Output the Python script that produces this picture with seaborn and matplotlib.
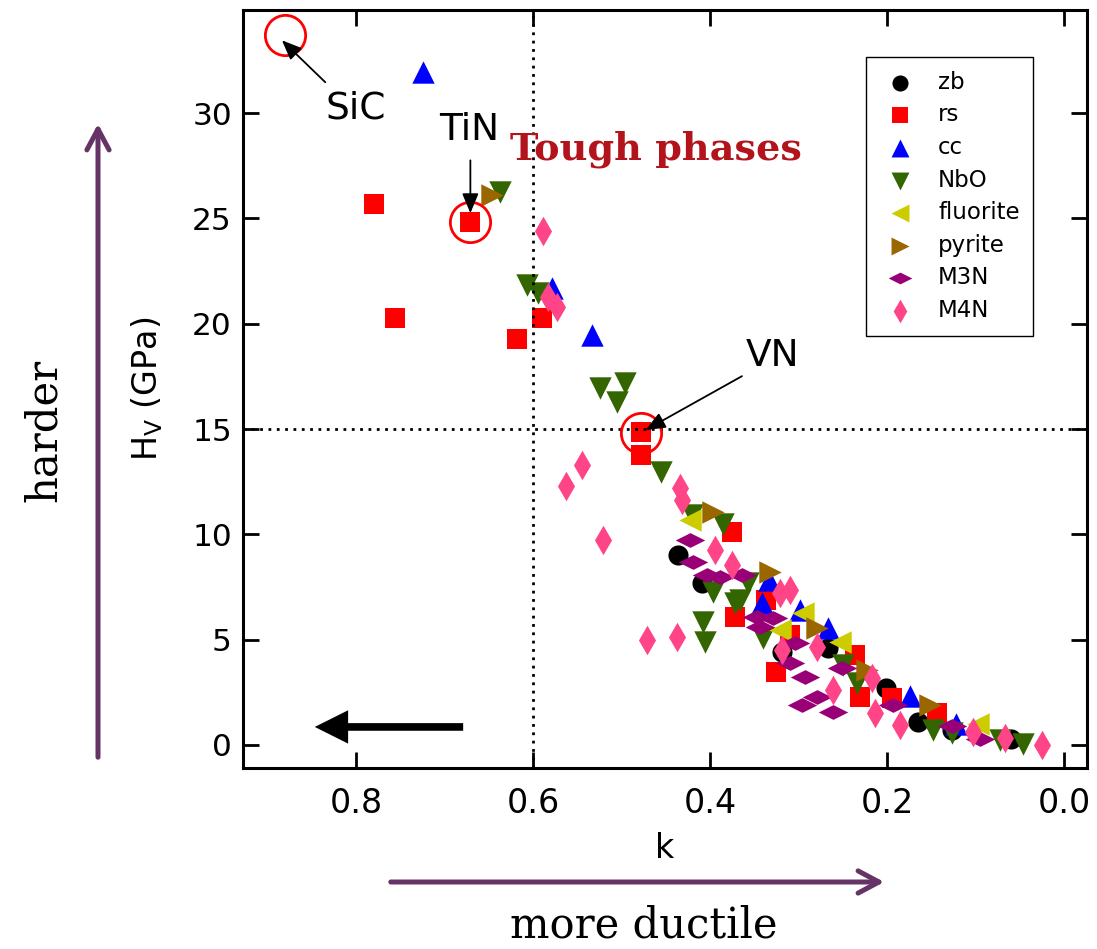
import matplotlib
matplotlib.use("Agg")
import matplotlib.pyplot as plt
import seaborn as sns
import pandas as pd
from matplotlib.patches import FancyArrowPatch

# ---------------- data (k, Hv in GPa) ----------------
zb_k = [0.436, 0.409, 0.319, 0.267, 0.201, 0.165, 0.127, 0.060]
zb_h = [9.02, 7.69, 4.41, 4.60, 2.71, 1.09, 0.71, 0.28]

rs_k = [0.780, 0.671, 0.756, 0.618, 0.590, 0.478, 0.478, 0.375, 0.372, 0.337,
        0.310, 0.325, 0.236, 0.231, 0.194, 0.144]
rs_h = [25.68, 24.82, 20.27, 19.27, 20.27, 14.86, 13.76, 10.11, 6.07, 6.88,
        5.22, 3.46, 4.27, 2.28, 2.23, 1.52]

cc_k = [0.725, 0.579, 0.533, 0.334, 0.341, 0.298, 0.267, 0.174, 0.122]
cc_h = [31.94, 21.69, 19.46, 7.83, 6.74, 6.41, 5.55, 2.33, 1.00]

nbo_k = [0.637, 0.607, 0.594, 0.524, 0.496, 0.505, 0.456, 0.386, 0.420, 0.357,
         0.397, 0.372, 0.408, 0.406, 0.340, 0.366, 0.250, 0.234, 0.148, 0.127,
         0.072, 0.046]
nbo_h = [26.25, 21.83, 21.45, 16.94, 17.18, 16.28, 12.96, 10.49, 10.92, 7.69,
         7.26, 6.74, 5.84, 4.89, 5.08, 6.88, 3.80, 2.94, 0.71, 0.57,
         0.24, 0.05]

fluorite_k = [0.423, 0.321, 0.295, 0.253, 0.097]
fluorite_h = [10.68, 5.46, 6.26, 4.89, 1.00]

pyrite_k = [0.646, 0.397, 0.332, 0.279, 0.223, 0.151]
pyrite_h = [26.10, 11.06, 8.21, 5.55, 3.56, 1.90]

m3n_k = [0.423, 0.419, 0.403, 0.389, 0.364, 0.347, 0.329, 0.344, 0.304, 0.310,
         0.293, 0.279, 0.296, 0.261, 0.251, 0.193, 0.127, 0.095]
m3n_h = [9.73, 8.69, 8.07, 7.97, 8.07, 6.07, 6.03, 5.60, 4.84, 3.89,
         3.23, 2.28, 1.90, 1.57, 3.65, 1.90, 0.90, 0.28]

m4n_k = [0.589, 0.583, 0.573, 0.563, 0.545, 0.521, 0.434, 0.432, 0.471, 0.437,
         0.394, 0.375, 0.321, 0.310, 0.319, 0.279, 0.261, 0.217, 0.214, 0.185,
         0.103, 0.067, 0.025]
m4n_h = [24.39, 21.26, 20.79, 12.29, 13.29, 9.73, 12.20, 11.63, 4.98, 5.13,
         9.25, 8.54, 7.21, 7.36, 4.51, 4.65, 2.61, 3.18, 1.52, 0.95,
         0.62, 0.33, 0.00]

phase_names = ["zb", "rs", "cc", "NbO", "fluorite", "pyrite", "M3N", "M4N"]

# highlighted compounds
ann_names = ["SiC", "TiN", "VN"]
ann_k = [0.881, 0.671, 0.478]
ann_h = [33.70, 24.85, 14.80]

# reference lines
k_ref = 0.6
h_ref = 15

x_ticks = [0.8, 0.6, 0.4, 0.2, 0.0]
x_ticklabels = ["0.8", "0.6", "0.4", "0.2", "0.0"]
y_ticks = [0, 5, 10, 15, 20, 25, 30]

# ---------------- styles ----------------
vdiamond = [(0, 1), (0.58, 0), (0, -1), (-0.58, 0)]
hdiamond = [(1, 0), (0, 0.5), (-1, 0), (0, -0.5)]
styles = {
    "zb":       dict(marker="o", s=210, color="#000000"),
    "rs":       dict(marker="s", s=220, color="#ff0000"),
    "cc":       dict(marker="^", s=260, color="#0000ff"),
    "NbO":      dict(marker="v", s=260, color="#336600"),
    "fluorite": dict(marker="<", s=260, color="#cccc00"),
    "pyrite":   dict(marker=">", s=260, color="#996600"),
    "M3N":      dict(marker=hdiamond, s=450, color="#990077"),
    "M4N":      dict(marker=vdiamond, s=450, color="#ff4488"),
}
data = {
    "zb": (zb_k, zb_h), "rs": (rs_k, rs_h), "cc": (cc_k, cc_h),
    "NbO": (nbo_k, nbo_h), "fluorite": (fluorite_k, fluorite_h),
    "pyrite": (pyrite_k, pyrite_h), "M3N": (m3n_k, m3n_h), "M4N": (m4n_k, m4n_h),
}

sns.set_style("ticks")
plt.rcParams["font.family"] = ["DejaVu Sans"]
plt.rcParams["mathtext.fontset"] = "dejavusans"
for key in ["text.color", "axes.labelcolor", "xtick.color", "ytick.color",
            "axes.edgecolor"]:
    plt.rcParams[key] = "black"

W, H = 1097, 949
fig = plt.figure(figsize=(W / 100, H / 100), dpi=100)
ax = fig.add_axes([243 / W, 1 - 768 / H, (1087 - 243) / W, (768 - 10) / H])

for i, name in enumerate(phase_names):
    kk, hh = data[name]
    df = pd.DataFrame({"k": kk, "Hv": hh})
    st = styles[name]
    sns.scatterplot(data=df, x="k", y="Hv", marker=st["marker"], s=st["s"],
                    color=st["color"], linewidth=0, label=name, ax=ax,
                    zorder=2 + i * 0.01, legend=False)

# dotted reference lines
ax.axvline(k_ref, color="black", ls=(0, (1, 2)), lw=2.0, zorder=3)
ax.axhline(h_ref, color="black", ls=(0, (1, 2)), lw=2.0, zorder=3)

# red open circles
ax.plot(ann_k, ann_h, ls="none", marker="o", ms=29, mfc="none", mec="#ff0000",
        mew=2.0, zorder=4)

# annotation texts & arrows
ax.text(0.801, 30.2, "SiC", fontsize=27, ha="center", va="center", zorder=5)
ax.text(0.672, 29.2, "TiN", fontsize=27, ha="center", va="center", zorder=5)
ax.text(0.330, 18.45, "VN", fontsize=27, ha="center", va="center", zorder=5)
ax.text(0.461, 28.3, "Tough phases", fontsize=27.5, family="DejaVu Serif",
        weight="bold", color="#b3141c", ha="center", va="center", zorder=5)

arr = dict(arrowstyle="-|>,head_length=0.6,head_width=0.25", color="black",
           lw=1.3, mutation_scale=20, shrinkA=0, shrinkB=0)
ax.annotate("", xy=(0.884, 33.46), xytext=(0.835, 31.47), arrowprops=arr, zorder=5)
ax.annotate("", xy=(0.671, 25.25), xytext=(0.671, 27.76), arrowprops=arr, zorder=5)
ax.annotate("", xy=(0.473, 14.95), xytext=(0.364, 17.51), arrowprops=arr, zorder=5)

# thick black arrow inside axes
big = FancyArrowPatch((0.676, 0.85), (0.850, 0.85),
                      arrowstyle="simple,head_length=24,head_width=24,tail_width=5.5",
                      mutation_scale=1, color="black", lw=0, zorder=5)
ax.add_patch(big)

# axes formatting
ax.set_xlim(0.928, -0.026)
ax.set_ylim(-1.1, 34.9)
ax.set_xticks(x_ticks)
ax.set_xticklabels(x_ticklabels)
ax.set_yticks(y_ticks)
for sp in ax.spines.values():
    sp.set_linewidth(2.2)
    sp.set_color("black")
ax.tick_params(direction="in", length=11.5, width=2.0, top=True, right=True,
               color="black", labelcolor="black")
ax.tick_params(axis="x", labelsize=24, pad=14)
ax.tick_params(axis="y", labelsize=22.5, pad=8)
ax.set_xlabel("k", fontsize=24)
ax.xaxis.set_label_coords(0.5, -0.084)
ax.set_ylabel(r"H$_\mathrm{V}$ (GPa)", fontsize=24)
ax.yaxis.set_label_coords(-0.092, 0.5)

# legend
handles, labels = ax.get_legend_handles_labels()
leg = ax.legend(handles, labels, loc="upper left", bbox_to_anchor=(0.738, 0.938),
                borderaxespad=0, fontsize=16.5, frameon=True, fancybox=False,
                edgecolor="black", framealpha=1, markerscale=0.8,
                labelspacing=0.42, handlelength=1.8, handletextpad=0.75,
                borderpad=0.6)
leg.get_frame().set_linewidth(1.0)
leg.set_zorder(10)

# figure-level purple arrows and labels
purple = "#663366"
pa = "->,head_length=15,head_width=8"
fig.add_artist(FancyArrowPatch((98 / W, 1 - 760 / H), (98 / W, 1 - 121 / H),
                               transform=fig.transFigure, arrowstyle=pa,
                               mutation_scale=1, color=purple, lw=3.6))
fig.add_artist(FancyArrowPatch((388 / W, 1 - 882 / H), (887 / W, 1 - 882 / H),
                               transform=fig.transFigure, arrowstyle=pa,
                               mutation_scale=1, color=purple, lw=3.6))
fig.text(44 / W, 1 - 430 / H, "harder", rotation=90, fontsize=30,
         family="DejaVu Serif", ha="center", va="center")
fig.text(644 / W, 1 - 947 / H, "more ductile", fontsize=30,
         family="DejaVu Serif", ha="center", va="bottom")

fig.savefig("out.png", dpi=100)
